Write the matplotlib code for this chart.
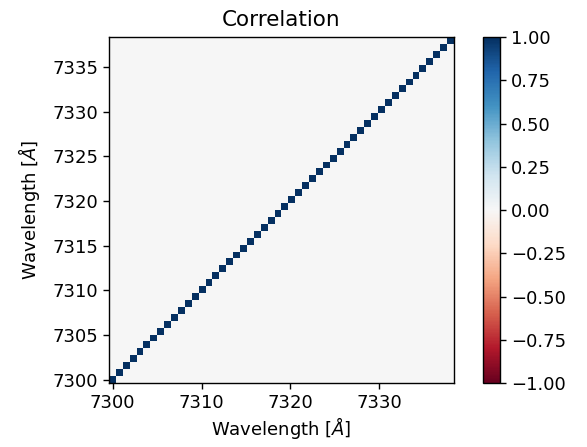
import numpy as np
import matplotlib
matplotlib.use('Agg')
import matplotlib.pyplot as plt

# rejilla de longitudes de onda (centros de pixel)
wl_inicio = 7300.0
wl_paso = 0.775
n_pix = 50
wl = wl_inicio + wl_paso*np.arange(n_pix)

# matriz de correlacion: diagonal = 1, fuera de la diagonal ~0
diagonal = [1.0]*n_pix
corr = np.diag(diagonal)

ticks_x = [7300, 7310, 7320, 7330]
ticks_y = [7300, 7305, 7310, 7315, 7320, 7325, 7330, 7335]
ticks_cb = [-1.0, -0.75, -0.5, -0.25, 0.0, 0.25, 0.5, 0.75, 1.0]

fig = plt.figure(figsize=(5.87, 4.47), dpi=100)
ax = fig.add_axes([0.186, 0.143, 0.587, 0.774])
cax = fig.add_axes([0.823, 0.143, 0.028, 0.774])

ext = [wl[0] - wl_paso/2, wl[-1] + wl_paso/2, wl[0] - wl_paso/2, wl[-1] + wl_paso/2]
im = ax.imshow(corr, cmap='RdBu', vmin=-1, vmax=1, origin='lower',
               extent=ext, interpolation='nearest', aspect='auto')
ax.set_xticks(ticks_x)
ax.set_yticks(ticks_y)
ax.tick_params(labelsize=13, length=4.5, width=1.0)
for s in ax.spines.values():
    s.set_linewidth(1.0)
ax.set_xlabel(r'Wavelength [$\AA$]', fontsize=13, labelpad=2)
ax.set_ylabel(r'Wavelength [$\AA$]', fontsize=13, labelpad=7)
ax.set_title('Correlation', fontsize=15.5, pad=8)

cb = fig.colorbar(im, cax=cax, ticks=ticks_cb)
cb.ax.tick_params(labelsize=13, length=4.5, width=1.0, pad=4)
cb.outline.set_linewidth(1.0)
cb.ax.set_yticklabels(['%.2f' % t if t >= 0 else '\u2212%.2f' % -t for t in ticks_cb])

fig.savefig('out.png', dpi=100)
